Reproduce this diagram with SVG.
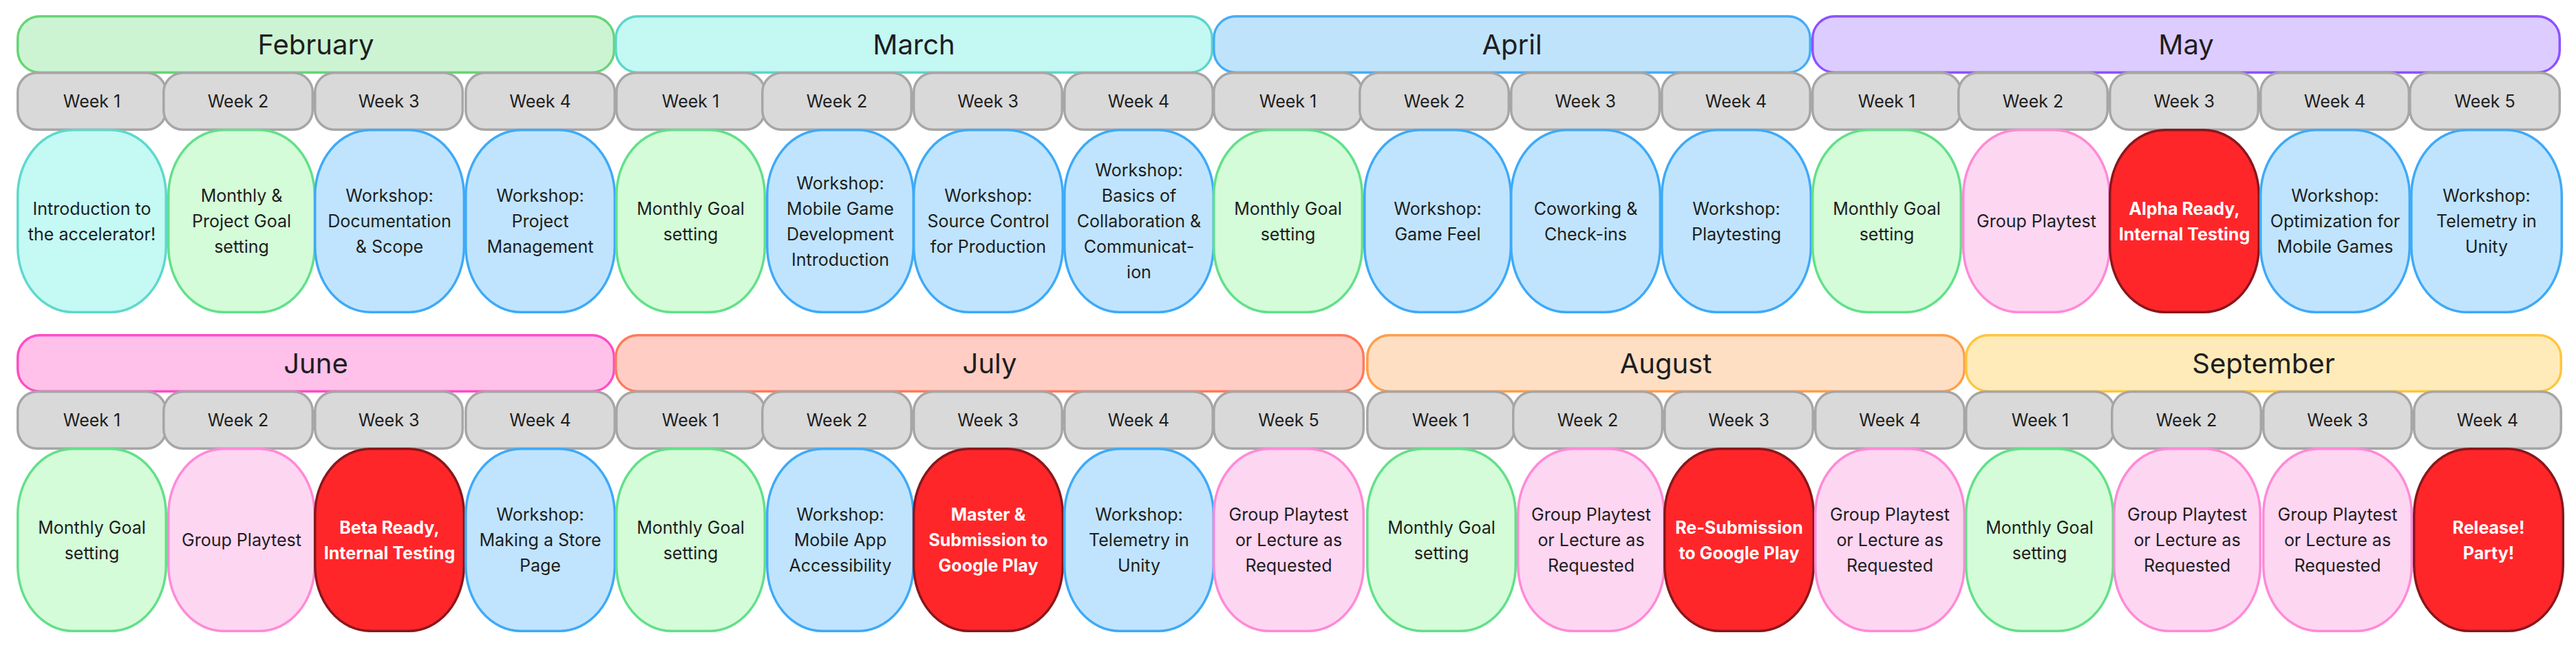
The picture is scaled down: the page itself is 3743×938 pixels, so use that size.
<svg xmlns="http://www.w3.org/2000/svg" width="3743" height="938" viewBox="0 0 3743 938">
<style>
rect{stroke-width:3.5}
text{font-family:Inter,"Noto Sans","Liberation Sans",sans-serif;fill:#1e1e1e;text-anchor:middle}
.mt{font-size:40px}
.wt{font-size:25px}
.nt{font-size:25px}
.rt{font-size:25px;font-weight:700;fill:#ffffff}
.mo{rx:32px;ry:32px}
.wk{fill:#d9d9d9;stroke:#a6a6a6;rx:28px;ry:28px}
.nd{rx:80px;ry:95px}
.feb{fill:#ccf4d3;stroke:#66d575}
.mar{fill:#c3f8f3;stroke:#5bd6c9}
.apr{fill:#c0e3fc;stroke:#45acf7}
.may{fill:#ddccff;stroke:#8c52ff}
.jun{fill:#ffc0ea;stroke:#ff4dc4}
.jul{fill:#ffcdc4;stroke:#ff7a5c}
.aug{fill:#ffdfc4;stroke:#ff9e4a}
.sep{fill:#feebb9;stroke:#ffc53d}
.g{fill:#d4fcd8;stroke:#62e08a}
.b{fill:#c0e4fe;stroke:#3eaaf8}
.p{fill:#fdd6f2;stroke:#ff8ad6}
.r{fill:#ff262a;stroke:#8a171b}
.c{fill:#c4f9f4;stroke:#5dd9cc}
</style>
<g id="connectors"/>
<g id="months">
<g id="m-feb"><rect class="mo feb" x="25.75" y="23.75" width="866.5" height="81.5"/><text class="mt" x="459" y="79">February</text></g>
<g id="m-mar"><rect class="mo mar" x="894.75" y="23.75" width="866.5" height="81.5"/><text class="mt" x="1328" y="79">March</text></g>
<g id="m-apr"><rect class="mo apr" x="1763.75" y="23.75" width="866.5" height="81.5"/><text class="mt" x="2197" y="79">April</text></g>
<g id="m-may"><rect class="mo may" x="2633.75" y="23.75" width="1085.5" height="81.5"/><text class="mt" x="3176.5" y="79">May</text></g>
<g id="m-jun"><rect class="mo jun" x="25.75" y="486.75" width="866.5" height="81.5"/><text class="mt" x="459" y="542">June</text></g>
<g id="m-jul"><rect class="mo jul" x="894.75" y="486.75" width="1086.5" height="81.5"/><text class="mt" x="1438" y="542">July</text></g>
<g id="m-aug"><rect class="mo aug" x="1986.75" y="486.75" width="867.5" height="81.5"/><text class="mt" x="2420.5" y="542">August</text></g>
<g id="m-sep"><rect class="mo sep" x="2856.75" y="486.75" width="864.5" height="81.5"/><text class="mt" x="3289" y="542">September</text></g>
</g>
<g id="weeks">
<g id="w-feb-1"><rect class="wk" x="25.75" y="105.75" width="215.5" height="82.5"/><text class="wt" x="133.5" y="156">Week 1</text></g>
<g id="w-feb-2"><rect class="wk" x="237.75" y="105.75" width="216.5" height="82.5"/><text class="wt" x="346" y="156">Week 2</text></g>
<g id="w-feb-3"><rect class="wk" x="457.75" y="105.75" width="214.5" height="82.5"/><text class="wt" x="565" y="156">Week 3</text></g>
<g id="w-feb-4"><rect class="wk" x="676.75" y="105.75" width="216.5" height="82.5"/><text class="wt" x="785" y="156">Week 4</text></g>
<g id="w-mar-1"><rect class="wk" x="895.75" y="105.75" width="215.5" height="82.5"/><text class="wt" x="1003.5" y="156">Week 1</text></g>
<g id="w-mar-2"><rect class="wk" x="1107.75" y="105.75" width="216.5" height="82.5"/><text class="wt" x="1216" y="156">Week 2</text></g>
<g id="w-mar-3"><rect class="wk" x="1327.75" y="105.75" width="215.5" height="82.5"/><text class="wt" x="1435.5" y="156">Week 3</text></g>
<g id="w-mar-4"><rect class="wk" x="1546.75" y="105.75" width="215.5" height="82.5"/><text class="wt" x="1654.5" y="156">Week 4</text></g>
<g id="w-apr-1"><rect class="wk" x="1763.75" y="105.75" width="215.5" height="82.5"/><text class="wt" x="1871.5" y="156">Week 1</text></g>
<g id="w-apr-2"><rect class="wk" x="1975.75" y="105.75" width="216.5" height="82.5"/><text class="wt" x="2084" y="156">Week 2</text></g>
<g id="w-apr-3"><rect class="wk" x="2195.75" y="105.75" width="215.5" height="82.5"/><text class="wt" x="2303.5" y="156">Week 3</text></g>
<g id="w-apr-4"><rect class="wk" x="2414.75" y="105.75" width="215.5" height="82.5"/><text class="wt" x="2522.5" y="156">Week 4</text></g>
<g id="w-may-1"><rect class="wk" x="2633.75" y="105.75" width="215.5" height="82.5"/><text class="wt" x="2741.5" y="156">Week 1</text></g>
<g id="w-may-2"><rect class="wk" x="2845.75" y="105.75" width="216.5" height="82.5"/><text class="wt" x="2954" y="156">Week 2</text></g>
<g id="w-may-3"><rect class="wk" x="3065.75" y="105.75" width="215.5" height="82.5"/><text class="wt" x="3173.5" y="156">Week 3</text></g>
<g id="w-may-4"><rect class="wk" x="3284.75" y="105.75" width="215.5" height="82.5"/><text class="wt" x="3392.5" y="156">Week 4</text></g>
<g id="w-may-5"><rect class="wk" x="3501.75" y="105.75" width="217.5" height="82.5"/><text class="wt" x="3610.5" y="156">Week 5</text></g>
<g id="w-jun-1"><rect class="wk" x="25.75" y="568.75" width="215.5" height="82.5"/><text class="wt" x="133.5" y="619">Week 1</text></g>
<g id="w-jun-2"><rect class="wk" x="237.75" y="568.75" width="216.5" height="82.5"/><text class="wt" x="346" y="619">Week 2</text></g>
<g id="w-jun-3"><rect class="wk" x="457.75" y="568.75" width="214.5" height="82.5"/><text class="wt" x="565" y="619">Week 3</text></g>
<g id="w-jun-4"><rect class="wk" x="676.75" y="568.75" width="216.5" height="82.5"/><text class="wt" x="785" y="619">Week 4</text></g>
<g id="w-jul-1"><rect class="wk" x="895.75" y="568.75" width="215.5" height="82.5"/><text class="wt" x="1003.5" y="619">Week 1</text></g>
<g id="w-jul-2"><rect class="wk" x="1107.75" y="568.75" width="216.5" height="82.5"/><text class="wt" x="1216" y="619">Week 2</text></g>
<g id="w-jul-3"><rect class="wk" x="1327.75" y="568.75" width="215.5" height="82.5"/><text class="wt" x="1435.5" y="619">Week 3</text></g>
<g id="w-jul-4"><rect class="wk" x="1546.75" y="568.75" width="215.5" height="82.5"/><text class="wt" x="1654.5" y="619">Week 4</text></g>
<g id="w-jul-5"><rect class="wk" x="1763.75" y="568.75" width="217.5" height="82.5"/><text class="wt" x="1872.5" y="619">Week 5</text></g>
<g id="w-aug-1"><rect class="wk" x="1986.75" y="568.75" width="213.5" height="82.5"/><text class="wt" x="2093.5" y="619">Week 1</text></g>
<g id="w-aug-2"><rect class="wk" x="2198.75" y="568.75" width="216.5" height="82.5"/><text class="wt" x="2307" y="619">Week 2</text></g>
<g id="w-aug-3"><rect class="wk" x="2418.75" y="568.75" width="215.5" height="82.5"/><text class="wt" x="2526.5" y="619">Week 3</text></g>
<g id="w-aug-4"><rect class="wk" x="2637.75" y="568.75" width="216.5" height="82.5"/><text class="wt" x="2746" y="619">Week 4</text></g>
<g id="w-sep-1"><rect class="wk" x="2856.75" y="568.75" width="215.5" height="82.5"/><text class="wt" x="2964.5" y="619">Week 1</text></g>
<g id="w-sep-2"><rect class="wk" x="3068.75" y="568.75" width="216.5" height="82.5"/><text class="wt" x="3177" y="619">Week 2</text></g>
<g id="w-sep-3"><rect class="wk" x="3288.75" y="568.75" width="215.5" height="82.5"/><text class="wt" x="3396.5" y="619">Week 3</text></g>
<g id="w-sep-4"><rect class="wk" x="3507.75" y="568.75" width="213.5" height="82.5"/><text class="wt" x="3614.5" y="619">Week 4</text></g>
</g>
<g id="events">
<g id="n-feb-1"><rect class="nd c" x="25.75" y="188.75" width="215.5" height="264.5"/><text class="nt" x="133.5" y="311.5">Introduction to</text><text class="nt" x="133.5" y="348.5">the accelerator!</text></g>
<g id="n-feb-2"><rect class="nd g" x="244.75" y="188.75" width="212.5" height="264.5"/><text class="nt" x="351" y="293">Monthly &amp;</text><text class="nt" x="351" y="330">Project Goal</text><text class="nt" x="351" y="367">setting</text></g>
<g id="n-feb-3"><rect class="nd b" x="457.75" y="188.75" width="216.5" height="264.5"/><text class="nt" x="566" y="293">Workshop:</text><text class="nt" x="566" y="330">Documentation</text><text class="nt" x="566" y="367">&amp; Scope</text></g>
<g id="n-feb-4"><rect class="nd b" x="676.75" y="188.75" width="216.5" height="264.5"/><text class="nt" x="785" y="293">Workshop:</text><text class="nt" x="785" y="330">Project</text><text class="nt" x="785" y="367">Management</text></g>
<g id="n-mar-1"><rect class="nd g" x="895.75" y="188.75" width="215.5" height="264.5"/><text class="nt" x="1003.5" y="311.5">Monthly Goal</text><text class="nt" x="1003.5" y="348.5">setting</text></g>
<g id="n-mar-2"><rect class="nd b" x="1114.75" y="188.75" width="212.5" height="264.5"/><text class="nt" x="1221" y="274.5">Workshop:</text><text class="nt" x="1221" y="311.5">Mobile Game</text><text class="nt" x="1221" y="348.5">Development</text><text class="nt" x="1221" y="385.5">Introduction</text></g>
<g id="n-mar-3"><rect class="nd b" x="1327.75" y="188.75" width="216.5" height="264.5"/><text class="nt" x="1436" y="293">Workshop:</text><text class="nt" x="1436" y="330">Source Control</text><text class="nt" x="1436" y="367">for Production</text></g>
<g id="n-mar-4"><rect class="nd b" x="1546.75" y="188.75" width="216.5" height="264.5"/><text class="nt" x="1655" y="256">Workshop:</text><text class="nt" x="1655" y="293">Basics of</text><text class="nt" x="1655" y="330">Collaboration &amp;</text><text class="nt" x="1655" y="367">Communicat-</text><text class="nt" x="1655" y="404">ion</text></g>
<g id="n-apr-1"><rect class="nd g" x="1763.75" y="188.75" width="215.5" height="264.5"/><text class="nt" x="1871.5" y="311.5">Monthly Goal</text><text class="nt" x="1871.5" y="348.5">setting</text></g>
<g id="n-apr-2"><rect class="nd b" x="1982.75" y="188.75" width="212.5" height="264.5"/><text class="nt" x="2089" y="311.5">Workshop:</text><text class="nt" x="2089" y="348.5">Game Feel</text></g>
<g id="n-apr-3"><rect class="nd b" x="2195.75" y="188.75" width="216.5" height="264.5"/><text class="nt" x="2304" y="311.5">Coworking &amp;</text><text class="nt" x="2304" y="348.5">Check-ins</text></g>
<g id="n-apr-4"><rect class="nd b" x="2414.75" y="188.75" width="216.5" height="264.5"/><text class="nt" x="2523" y="311.5">Workshop:</text><text class="nt" x="2523" y="348.5">Playtesting</text></g>
<g id="n-may-1"><rect class="nd g" x="2633.75" y="188.75" width="215.5" height="264.5"/><text class="nt" x="2741.5" y="311.5">Monthly Goal</text><text class="nt" x="2741.5" y="348.5">setting</text></g>
<g id="n-may-2"><rect class="nd p" x="2852.75" y="188.75" width="212.5" height="264.5"/><text class="nt" x="2959" y="330">Group Playtest</text></g>
<g id="n-may-3"><rect class="nd r" x="3065.75" y="188.75" width="216.5" height="264.5"/><text class="rt" x="3174" y="311.5">Alpha Ready,</text><text class="rt" x="3174" y="348.5">Internal Testing</text></g>
<g id="n-may-4"><rect class="nd b" x="3284.75" y="188.75" width="216.5" height="264.5"/><text class="nt" x="3393" y="293">Workshop:</text><text class="nt" x="3393" y="330">Optimization for</text><text class="nt" x="3393" y="367">Mobile Games</text></g>
<g id="n-may-5"><rect class="nd b" x="3503.75" y="188.75" width="218.5" height="264.5"/><text class="nt" x="3613" y="293">Workshop:</text><text class="nt" x="3613" y="330">Telemetry in</text><text class="nt" x="3613" y="367">Unity</text></g>
<g id="n-jun-1"><rect class="nd g" x="25.75" y="651.75" width="215.5" height="264.5"/><text class="nt" x="133.5" y="774.5">Monthly Goal</text><text class="nt" x="133.5" y="811.5">setting</text></g>
<g id="n-jun-2"><rect class="nd p" x="244.75" y="651.75" width="212.5" height="264.5"/><text class="nt" x="351" y="793">Group Playtest</text></g>
<g id="n-jun-3"><rect class="nd r" x="457.75" y="651.75" width="216.5" height="264.5"/><text class="rt" x="566" y="774.5">Beta Ready,</text><text class="rt" x="566" y="811.5">Internal Testing</text></g>
<g id="n-jun-4"><rect class="nd b" x="676.75" y="651.75" width="216.5" height="264.5"/><text class="nt" x="785" y="756">Workshop:</text><text class="nt" x="785" y="793">Making a Store</text><text class="nt" x="785" y="830">Page</text></g>
<g id="n-jul-1"><rect class="nd g" x="895.75" y="651.75" width="215.5" height="264.5"/><text class="nt" x="1003.5" y="774.5">Monthly Goal</text><text class="nt" x="1003.5" y="811.5">setting</text></g>
<g id="n-jul-2"><rect class="nd b" x="1114.75" y="651.75" width="212.5" height="264.5"/><text class="nt" x="1221" y="756">Workshop:</text><text class="nt" x="1221" y="793">Mobile App</text><text class="nt" x="1221" y="830">Accessibility</text></g>
<g id="n-jul-3"><rect class="nd r" x="1327.75" y="651.75" width="216.5" height="264.5"/><text class="rt" x="1436" y="756">Master &amp;</text><text class="rt" x="1436" y="793">Submission to</text><text class="rt" x="1436" y="830">Google Play</text></g>
<g id="n-jul-4"><rect class="nd b" x="1546.75" y="651.75" width="216.5" height="264.5"/><text class="nt" x="1655" y="756">Workshop:</text><text class="nt" x="1655" y="793">Telemetry in</text><text class="nt" x="1655" y="830">Unity</text></g>
<g id="n-jul-5"><rect class="nd p" x="1763.75" y="651.75" width="217.5" height="264.5"/><text class="nt" x="1872.5" y="756">Group Playtest</text><text class="nt" x="1872.5" y="793">or Lecture as</text><text class="nt" x="1872.5" y="830">Requested</text></g>
<g id="n-aug-1"><rect class="nd g" x="1986.75" y="651.75" width="215.5" height="264.5"/><text class="nt" x="2094.5" y="774.5">Monthly Goal</text><text class="nt" x="2094.5" y="811.5">setting</text></g>
<g id="n-aug-2"><rect class="nd p" x="2205.75" y="651.75" width="212.5" height="264.5"/><text class="nt" x="2312" y="756">Group Playtest</text><text class="nt" x="2312" y="793">or Lecture as</text><text class="nt" x="2312" y="830">Requested</text></g>
<g id="n-aug-3"><rect class="nd r" x="2418.75" y="651.75" width="216.5" height="264.5"/><text class="rt" x="2527" y="774.5">Re-Submission</text><text class="rt" x="2527" y="811.5">to Google Play</text></g>
<g id="n-aug-4"><rect class="nd p" x="2637.75" y="651.75" width="216.5" height="264.5"/><text class="nt" x="2746" y="756">Group Playtest</text><text class="nt" x="2746" y="793">or Lecture as</text><text class="nt" x="2746" y="830">Requested</text></g>
<g id="n-sep-1"><rect class="nd g" x="2856.75" y="651.75" width="213.5" height="264.5"/><text class="nt" x="2963.5" y="774.5">Monthly Goal</text><text class="nt" x="2963.5" y="811.5">setting</text></g>
<g id="n-sep-2"><rect class="nd p" x="3071.75" y="651.75" width="212.5" height="264.5"/><text class="nt" x="3178" y="756">Group Playtest</text><text class="nt" x="3178" y="793">or Lecture as</text><text class="nt" x="3178" y="830">Requested</text></g>
<g id="n-sep-3"><rect class="nd p" x="3288.75" y="651.75" width="215.5" height="264.5"/><text class="nt" x="3396.5" y="756">Group Playtest</text><text class="nt" x="3396.5" y="793">or Lecture as</text><text class="nt" x="3396.5" y="830">Requested</text></g>
<g id="n-sep-4"><rect class="nd r" x="3507.75" y="651.75" width="216.5" height="264.5"/><text class="rt" x="3616" y="774.5">Release!</text><text class="rt" x="3616" y="811.5">Party!</text></g>
</g>
</svg>
